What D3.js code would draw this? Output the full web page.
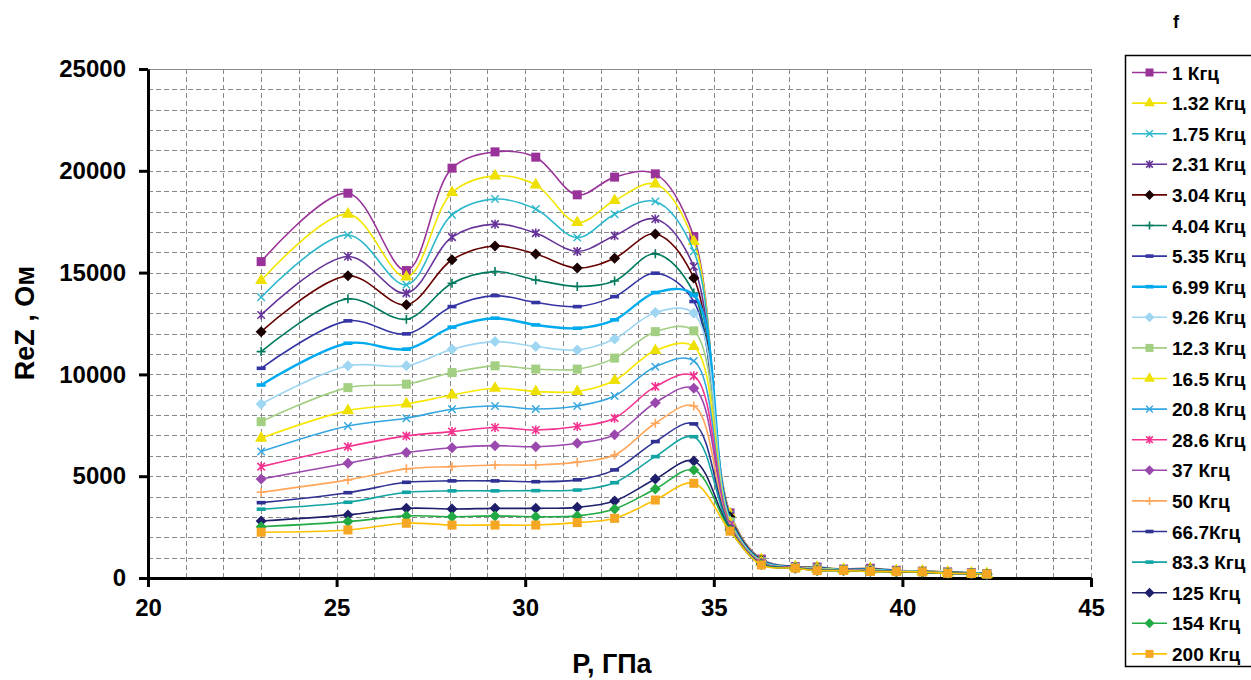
<!DOCTYPE html>
<html>
<head>
<meta charset="utf-8">
<script src="https://cdn.jsdelivr.net/npm/d3@7"></script>
<style>
  html, body { margin: 0; padding: 0; background: #fff; }
  svg { display: block; font-family: "Liberation Sans", Arial, sans-serif; }
</style>
</head>
<body>
<svg id="chart" width="1251" height="680"></svg>
<script>
// Pressure points (GPa) shared by all frequency series
const pressure = [23.0, 25.3, 26.85, 28.06, 29.2, 30.28, 31.38, 32.37, 33.45, 34.47, 35.43, 36.26, 37.16, 37.74, 38.44, 39.15, 39.84, 40.53, 41.2, 41.83, 42.24];

// Series labels (frequency)
const freqLabels = ["1 Кгц", "1.32 Кгц", "1.75 Кгц", "2.31 Кгц", "3.04 Кгц", "4.04 Кгц", "5.35 Кгц", "6.99 Кгц", "9.26 Кгц", "12.3 Кгц",
  "16.5 Кгц", "20.8 Кгц", "28.6 Кгц", "37 Кгц", "50 Кгц", "66.7Кгц", "83.3 Кгц", "125 Кгц", "154 Кгц", "200 Кгц"];

// ReZ values (Ohm) per frequency
const rez1   = [15540, 18900, 15100, 20130, 20930, 20670, 18820, 19690, 19850, 16770, 3200, 930, 560, 540, 440, 480, 380, 340, 300, 260, 220];
const rez132 = [14610, 17870, 14780, 18930, 19750, 19310, 17460, 18540, 19350, 16530, 3150, 910, 550, 530, 430, 470, 370, 340, 290, 250, 220];
const rez175 = [13790, 16850, 14400, 17840, 18610, 18120, 16720, 17870, 18490, 16050, 3100, 890, 550, 520, 430, 460, 370, 330, 290, 250, 210];
const rez231 = [12920, 15790, 13990, 16740, 17380, 16940, 16040, 16810, 17630, 15300, 3050, 880, 540, 510, 420, 450, 360, 330, 280, 250, 210];
const rez304 = [12100, 14840, 13420, 15630, 16310, 15910, 15220, 15710, 16900, 14730, 3000, 860, 540, 500, 420, 440, 360, 320, 280, 240, 210];
const rez404 = [11120, 13710, 12710, 14480, 15050, 14640, 14320, 14590, 15920, 14000, 2950, 850, 530, 490, 410, 430, 350, 320, 270, 240, 200];
const rez535 = [10300, 12630, 11990, 13330, 13870, 13530, 13330, 13820, 14970, 13580, 2900, 830, 530, 480, 410, 420, 350, 320, 270, 240, 200];
const rez699 = [9480, 11530, 11240, 12320, 12760, 12430, 12270, 12680, 14020, 13900, 2850, 820, 520, 470, 400, 410, 340, 310, 260, 230, 200];
const rez926 = [8550, 10420, 10420, 11240, 11610, 11370, 11200, 11740, 13040, 13000, 2800, 800, 520, 460, 400, 400, 340, 310, 260, 230, 200];
const rez123 = [7680, 9350, 9520, 10090, 10420, 10260, 10260, 10800, 12100, 12140, 2750, 790, 510, 450, 390, 390, 330, 300, 250, 230, 190];
const rez165 = [6870, 8220, 8550, 8990, 9320, 9160, 9160, 9700, 11170, 11370, 2700, 770, 510, 440, 390, 380, 330, 300, 250, 220, 190];
const rez208 = [6210, 7470, 7850, 8290, 8450, 8300, 8450, 8940, 10380, 10660, 2650, 760, 500, 430, 380, 370, 320, 300, 250, 220, 190];
const rez286 = [5470, 6450, 6980, 7190, 7390, 7270, 7440, 7850, 9400, 9930, 2600, 740, 500, 420, 380, 360, 320, 290, 240, 220, 190];
const rez37  = [4860, 5640, 6160, 6400, 6500, 6450, 6620, 7030, 8610, 9320, 2550, 730, 500, 410, 380, 350, 320, 290, 240, 220, 190];
const rez50  = [4210, 4820, 5360, 5470, 5550, 5550, 5690, 6040, 7600, 8450, 2500, 710, 490, 400, 370, 340, 310, 290, 240, 210, 180];
const rez667 = [3700, 4190, 4700, 4770, 4770, 4730, 4820, 5310, 6700, 7570, 2450, 700, 490, 390, 370, 340, 310, 290, 230, 210, 180];
const rez833 = [3380, 3720, 4210, 4280, 4280, 4290, 4320, 4680, 5960, 6940, 2400, 680, 490, 380, 370, 330, 310, 290, 230, 210, 180];
const rez125 = [2800, 3100, 3420, 3390, 3420, 3420, 3470, 3780, 4860, 5750, 2380, 670, 480, 370, 370, 330, 310, 300, 230, 220, 190];
const rez154 = [2520, 2770, 3050, 3010, 3050, 3010, 3050, 3390, 4370, 5310, 2350, 660, 480, 370, 370, 320, 310, 300, 230, 220, 190];
const rez200 = [2250, 2360, 2690, 2600, 2600, 2600, 2720, 2930, 3830, 4650, 2300, 640, 480, 360, 370, 320, 310, 300, 230, 220, 190];

const yTicks = [0, 5000, 10000, 15000, 20000, 25000];
const xTicks = [20, 25, 30, 35, 40, 45];

// Appearance of each series: line colour, marker colour, marker kind, line width
const styles = [
  { line: "#993399", mark: "#993399", kind: "square", w: 1.6 },
  { line: "#F2E600", mark: "#EEE000", kind: "triangle", w: 1.6 },
  { line: "#2DB8CC", mark: "#2DB8CC", kind: "x", w: 1.6 },
  { line: "#663399", mark: "#663399", kind: "star", w: 1.6 },
  { line: "#660000", mark: "#1A0000", kind: "diamond", w: 1.6 },
  { line: "#007A5E", mark: "#007A5E", kind: "plus", w: 1.6 },
  { line: "#3434A4", mark: "#3434A4", kind: "dash", w: 1.6 },
  { line: "#00AAEE", mark: "#00AAEE", kind: "dash", w: 2.4 },
  { line: "#9FD6F2", mark: "#9FD6F2", kind: "diamond", w: 1.6 },
  { line: "#A2CF82", mark: "#A2CF82", kind: "square", w: 1.6 },
  { line: "#F8E800", mark: "#EEE000", kind: "triangle", w: 1.6 },
  { line: "#33A6E0", mark: "#33A6E0", kind: "x", w: 1.6 },
  { line: "#F5338F", mark: "#F5338F", kind: "star", w: 1.6 },
  { line: "#9B48AE", mark: "#9B48AE", kind: "diamond", w: 1.6 },
  { line: "#FFA65A", mark: "#FFA65A", kind: "plus", w: 1.6 },
  { line: "#2E3192", mark: "#2E3192", kind: "dash", w: 1.6 },
  { line: "#12A3A3", mark: "#12A3A3", kind: "dash", w: 1.6 },
  { line: "#1E1E6A", mark: "#1E1E6A", kind: "diamond", w: 1.6 },
  { line: "#22AA44", mark: "#22AA44", kind: "diamond", w: 1.6 },
  { line: "#FFC000", mark: "#F5A623", kind: "square", w: 1.6 }
];

const seriesValues = [rez1, rez132, rez175, rez231, rez304, rez404, rez535, rez699, rez926, rez123,
  rez165, rez208, rez286, rez37, rez50, rez667, rez833, rez125, rez154, rez200];

const series = freqLabels.map((label, i) => ({
  label,
  style: styles[i],
  points: pressure.map((p, j) => ({ p, v: seriesValues[i][j] }))
}));

const svg = d3.select("#chart");
const plot = { left: 148, right: 1091, top: 69, bottom: 578 };

const x = d3.scaleLinear().domain([20, 45]).range([plot.left, plot.right]);
const y = d3.scaleLinear().domain([0, 25000]).range([plot.bottom, plot.top]);

// Dashed grid
const grid = svg.append("g").attr("stroke", "#8a8a8a").attr("stroke-width", 1).attr("stroke-dasharray", "5,3");
grid.selectAll("line.h").data(d3.range(1000, 25000, 1000)).join("line")
  .attr("x1", plot.left).attr("x2", plot.right)
  .attr("y1", d => Math.round(y(d)) + 0.5).attr("y2", d => Math.round(y(d)) + 0.5);
grid.selectAll("line.v").data(d3.range(21, 46, 1)).join("line")
  .attr("y1", plot.top).attr("y2", plot.bottom)
  .attr("x1", d => Math.round(x(d)) + 0.5).attr("x2", d => Math.round(x(d)) + 0.5);

// Top border of the plot area
svg.append("line").attr("x1", plot.left).attr("x2", plot.right)
  .attr("y1", plot.top + 0.5).attr("y2", plot.top + 0.5)
  .attr("stroke", "#8a8a8a").attr("stroke-width", 1);

// Axes
const yAxis = svg.append("g").attr("transform", `translate(${plot.left},0)`)
  .call(d3.axisLeft(y).tickValues(yTicks).tickSize(9).tickSizeOuter(0).tickPadding(13).tickFormat(d3.format("d")));
const xAxis = svg.append("g").attr("transform", `translate(0,${plot.bottom})`)
  .call(d3.axisBottom(x).tickValues(xTicks).tickSize(9).tickSizeOuter(0).tickPadding(12).tickFormat(d3.format("d")));

[yAxis, xAxis].forEach(g => {
  g.select(".domain").attr("stroke", "#000").attr("stroke-width", 3);
  g.selectAll(".tick line").attr("stroke", "#000").attr("stroke-width", 3);
  g.selectAll(".tick text").attr("fill", "#000").attr("font-size", 24).attr("font-weight", "bold")
    .attr("font-family", "'Liberation Sans', Arial, sans-serif");
});

// Marker drawing
function drawMarker(g, kind, color, size) {
  const s = size;
  switch (kind) {
    case "square":
      g.append("rect").attr("x", -s / 2).attr("y", -s / 2).attr("width", s).attr("height", s).attr("fill", color);
      break;
    case "triangle":
      g.append("path").attr("d", d3.symbol(d3.symbolTriangle, s * s * 0.8)()).attr("fill", color);
      break;
    case "diamond":
      g.append("path").attr("d", `M0,${-s / 2 - 1}L${s / 2 + 1},0L0,${s / 2 + 1}L${-s / 2 - 1},0Z`).attr("fill", color);
      break;
    case "x":
      g.append("path").attr("d", `M${-s / 2.4},${-s / 2.4}L${s / 2.4},${s / 2.4}M${-s / 2.4},${s / 2.4}L${s / 2.4},${-s / 2.4}`)
        .attr("stroke", color).attr("stroke-width", 1.4).attr("fill", "none");
      break;
    case "star":
      g.append("path").attr("d", `M${-s / 2.4},${-s / 2.4}L${s / 2.4},${s / 2.4}M${-s / 2.4},${s / 2.4}L${s / 2.4},${-s / 2.4}M0,${-s / 2}L0,${s / 2}`)
        .attr("stroke", color).attr("stroke-width", 1.6).attr("fill", "none");
      break;
    case "plus":
      g.append("path").attr("d", `M${-s / 2},0L${s / 2},0M0,${-s / 2}L0,${s / 2}`)
        .attr("stroke", color).attr("stroke-width", 1.6).attr("fill", "none");
      break;
    case "dash":
      g.append("rect").attr("x", -s / 2).attr("y", -1.8).attr("width", s).attr("height", 3.6).attr("fill", color);
      break;
  }
}

// Smoothed series lines with markers
const line = d3.line().x(d => x(d.p)).y(d => y(d.v)).curve(d3.curveCatmullRom.alpha(0.5));
const layer = svg.append("g");
series.forEach(s => {
  const g = layer.append("g");
  g.append("path").datum(s.points).attr("d", line)
    .attr("fill", "none").attr("stroke", s.style.line).attr("stroke-width", s.style.w).attr("stroke-linejoin", "round");
  s.points.forEach(pt => {
    const m = g.append("g").attr("transform", `translate(${x(pt.p)},${y(pt.v)})`);
    drawMarker(m, s.style.kind, s.style.mark, 9);
  });
});

// Axis titles
svg.append("text").attr("x", 612).attr("y", 673).attr("text-anchor", "middle")
  .attr("font-size", 27).attr("font-weight", "bold").text("P, ГПа");
svg.append("text").attr("transform", "translate(34,323) rotate(-90)").attr("text-anchor", "middle")
  .attr("font-size", 27).attr("font-weight", "bold").text("ReZ , Ом");

// Legend
const lg = { left: 1125, top: 55, bottom: 666, first: 72.5, step: 30.6 };
svg.append("rect").attr("x", lg.left + 0.5).attr("y", lg.top + 0.5)
  .attr("width", 200).attr("height", lg.bottom - lg.top)
  .attr("fill", "#fff").attr("stroke", "#000").attr("stroke-width", 1.5);
svg.append("text").attr("x", 1176).attr("y", 28).attr("text-anchor", "middle")
  .attr("font-size", 18).attr("font-weight", "bold").text("f");
series.forEach((s, i) => {
  const cy = lg.first + i * lg.step;
  const g = svg.append("g");
  g.append("line").attr("x1", 1132).attr("x2", 1167).attr("y1", cy).attr("y2", cy)
    .attr("stroke", s.style.line).attr("stroke-width", s.style.w);
  const m = g.append("g").attr("transform", `translate(1149.5,${cy})`);
  drawMarker(m, s.style.kind, s.style.mark, 8);
  g.append("text").attr("x", 1172).attr("y", cy + 7)
    .attr("font-size", 19).attr("font-weight", "bold").text(s.label);
});
</script>
</body>
</html>
